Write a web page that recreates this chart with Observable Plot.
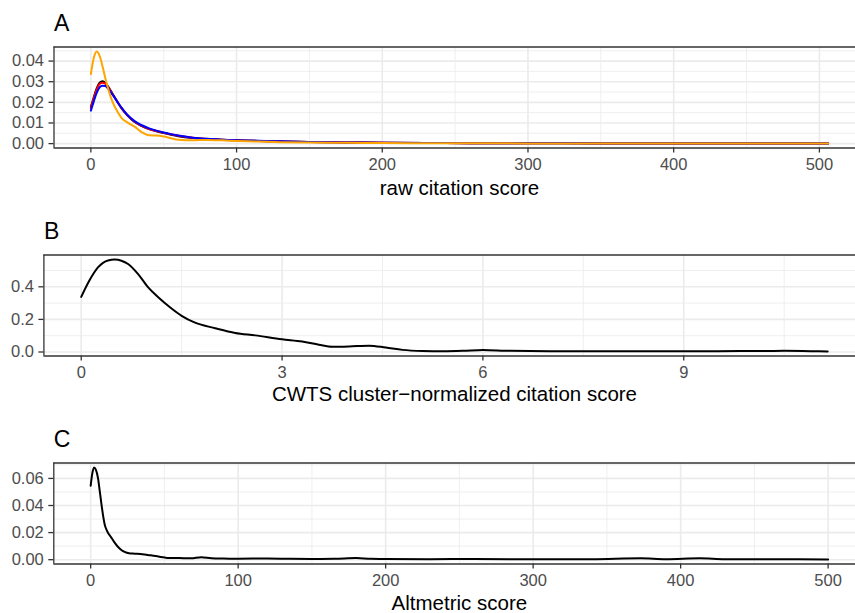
<!DOCTYPE html>
<html><head><meta charset="utf-8">
<script src="https://cdn.jsdelivr.net/npm/d3@7"></script>
<script src="https://cdn.jsdelivr.net/npm/@observablehq/plot@0.6"></script>
<style>
html,body{margin:0;padding:0;background:#fff;overflow:hidden;width:855px;height:613px}
#chart{width:855px;overflow:hidden}
#chart svg{display:block;max-width:none !important;width:870px !important;height:208px !important}
</style></head><body><div id="chart"></div>
<script>
// ---------- Panel A: raw citation score (four groups) ----------
const rawX = [0,2,4,6,8,10,12,15,18,21,25,30,35,40,45,50,55,60,70,80,90,100,115,130,150,175,200,230,260,300,350,400,450,506];
const rawBlack = [0.0178,0.0225,0.0268,0.0295,0.0302,0.0294,0.0275,0.0240,0.0205,0.0172,0.0137,0.0105,0.0085,0.0070,0.0060,0.0051,0.0043,0.0036,0.0027,0.0022,0.0019,0.0016,0.0013,0.0010,0.0008,0.0006,0.0004,0.0003,0.0002,0.0002,0.0001,0.0001,0.0001,0.0001];
const rawRed = [0.0172,0.0220,0.0262,0.0289,0.0295,0.0290,0.0272,0.0239,0.0205,0.0172,0.0138,0.0106,0.0086,0.0071,0.0061,0.0052,0.0045,0.0038,0.0028,0.0022,0.0019,0.0016,0.0013,0.0010,0.0008,0.0006,0.0004,0.0003,0.0002,0.0002,0.0001,0.0001,0.0001,0.0001];
const rawBlue = [0.0160,0.0205,0.0246,0.0272,0.0281,0.0279,0.0265,0.0236,0.0205,0.0174,0.0140,0.0109,0.0089,0.0074,0.0063,0.0054,0.0046,0.0039,0.0029,0.0023,0.0019,0.0016,0.0014,0.0011,0.0008,0.0005,0.0004,0.0003,0.0002,0.0002,0.0001,0.0001,0.0001,0.0001];
const rawOrange = [0.0337,0.0415,0.0446,0.0425,0.0375,0.0315,0.0262,0.0200,0.0158,0.0125,0.0103,0.0082,0.0055,0.0040,0.0039,0.0034,0.0026,0.0019,0.0016,0.0018,0.0016,0.0013,0.0010,0.0007,0.0005,0.0004,0.0003,0.0002,0.0002,0.0001,0.0001,0.0001,0.0001,0.0001];
const rawColors = ["black","red","blue","orange"];
const rawXTicks = [0,100,200,300,400,500];
const rawYTicks = [0,0.01,0.02,0.03,0.04];

// ---------- Panel B: CWTS cluster-normalized citation score ----------
const cwtsX = [0,0.12,0.25,0.4,0.5,0.6,0.7,0.85,1.0,1.15,1.33,1.5,1.7,2.0,2.3,2.6,3.0,3.3,3.55,3.75,4.0,4.3,4.55,4.8,5.1,5.4,5.7,6.0,6.4,7.0,7.5,8.0,8.5,9.0,9.5,10.0,10.5,10.9,11.15];
const cwtsY = [0.338,0.437,0.519,0.562,0.567,0.560,0.540,0.478,0.396,0.336,0.273,0.222,0.180,0.146,0.117,0.102,0.078,0.064,0.045,0.032,0.034,0.039,0.027,0.013,0.006,0.004,0.007,0.013,0.007,0.005,0.004,0.004,0.004,0.005,0.005,0.006,0.007,0.005,0.0036];
const cwtsXTicks = [0,3,6,9];
const cwtsYTicks = [0,0.2,0.4];

// ---------- Panel C: Altmetric score ----------
const altX = [0,1,2.3,3.5,5,6,7.3,8.5,9.5,11,14,16,18.6,21,23,26,30,35,40,44,48,52,60,68,75,82,90,100,110,120,135,150,165,180,190,200,230,260,300,340,373,390,413,430,460,500];
const altY = [0.0546,0.063,0.068,0.0665,0.060,0.052,0.041,0.032,0.026,0.0215,0.0163,0.0130,0.0094,0.0070,0.0057,0.0047,0.0044,0.0040,0.0033,0.0027,0.0020,0.0013,0.0012,0.0010,0.0018,0.0010,0.0008,0.0007,0.0008,0.0009,0.0006,0.0005,0.0006,0.0012,0.0006,0.0005,0.0004,0.0005,0.0003,0.0004,0.0011,0.0004,0.0011,0.0004,0.0003,0.0002];
const altXTicks = [0,100,200,300,400,500];
const altYTicks = [0,0.02,0.04,0.06];

const panelTitles = ["A","B","C"];
const xTitles = ["raw citation score","CWTS cluster\u2212normalized citation score","Altmetric score"];

// ---------- helpers ----------
function expand(ext){const r = ext[1]-ext[0]; return [ext[0]-0.05*r, ext[1]+0.05*r];}
function minorTicks(ticks, dom){
  const s = ticks[1]-ticks[0], out = [];
  for (let i = -1; ; i++) { const v = ticks[0] + (i+0.5)*s; if (v > dom[1]) break; if (v >= dom[0]) out.push(+v.toFixed(10)); }
  return out;
}

const FONT = "'Liberation Sans', Arial, Helvetica, sans-serif";
const GRID = "#EBEBEB";
const BORDER = "#333333";

function panel({rows, colored, xTicks, yTicks, yFmt, marginLeft, title, xTitle, titleDy, height}){
  const xDom = expand(d3.extent(rows, d => d.x));
  const yDom = expand(d3.extent(rows, d => d.y));
  const frameH = 101;
  return Plot.plot({
    width: 870, height: height,
    marginLeft, marginRight: 5.5, marginTop: 46.5, marginBottom: height - 46.5 - frameH,
    style: {fontFamily: FONT, fontSize: "16px", color: "#4D4D4D", background: "white"},
    x: {domain: xDom},
    y: {domain: yDom},
    color: {type: "identity"},
    marks: [
      Plot.gridX(minorTicks(xTicks, xDom), {stroke: GRID, strokeOpacity: 1, strokeWidth: 0.8}),
      Plot.gridY(minorTicks(yTicks, yDom), {stroke: GRID, strokeOpacity: 1, strokeWidth: 0.8}),
      Plot.gridX(xTicks, {stroke: GRID, strokeOpacity: 1, strokeWidth: 1.6}),
      Plot.gridY(yTicks, {stroke: GRID, strokeOpacity: 1, strokeWidth: 1.6}),
      Plot.line(rows, {x: "x", y: "y", z: "s", stroke: colored ? "s" : "black", strokeWidth: 2, curve: "monotone-x"}),
      Plot.axisX(xTicks, {tickSize: 5, tickPadding: 5, stroke: BORDER, strokeWidth: 1.3, fill: "#4D4D4D", fontSize: 16.5, label: null}),
      Plot.axisY(yTicks, {tickSize: 5, tickPadding: 5, stroke: BORDER, strokeWidth: 1.3, fill: "#4D4D4D", fontSize: 16.5, tickFormat: d3.format(yFmt), label: null}),
      // panel border (its right side lies beyond the cropped edge)
      Plot.ruleX([xDom[0]], {stroke: BORDER, strokeWidth: 1.3}),
      Plot.ruleY([yDom[0], yDom[1]], {stroke: BORDER, strokeWidth: 1.3}),
      Plot.text([title], {frameAnchor: "top-left", textAnchor: "start", lineAnchor: "bottom", dy: -16.5, fontSize: 23, fill: "black"}),
      Plot.text([xTitle], {frameAnchor: "bottom", textAnchor: "middle", lineAnchor: "bottom", dy: titleDy, fontSize: 20.5, fill: "black"})
    ]
  });
}

const rowsA = [];
[rawBlack, rawRed, rawBlue, rawOrange].forEach((ys, k) => ys.forEach((y, i) => rowsA.push({x: rawX[i], y, s: rawColors[k]})));
const rowsB = cwtsX.map((x, i) => ({x, y: cwtsY[i], s: "B"}));
const rowsC = altX.map((x, i) => ({x, y: altY[i], s: "C"}));

const chart = document.getElementById("chart");
chart.append(panel({rows: rowsA, colored: true, xTicks: rawXTicks, yTicks: rawYTicks, yFmt: ".2f", marginLeft: 53.5, title: panelTitles[0], xTitle: xTitles[0], titleDy: 46.5, height: 208}));
chart.append(panel({rows: rowsB, colored: false, xTicks: cwtsXTicks, yTicks: cwtsYTicks, yFmt: ".1f", marginLeft: 43.4, title: panelTitles[1], xTitle: xTitles[1], titleDy: 45, height: 208}));
chart.append(panel({rows: rowsC, colored: false, xTicks: altXTicks, yTicks: altYTicks, yFmt: ".2f", marginLeft: 53.3, title: panelTitles[2], xTitle: xTitles[2], titleDy: 45.5, height: 208}));
</script>
</body></html>
